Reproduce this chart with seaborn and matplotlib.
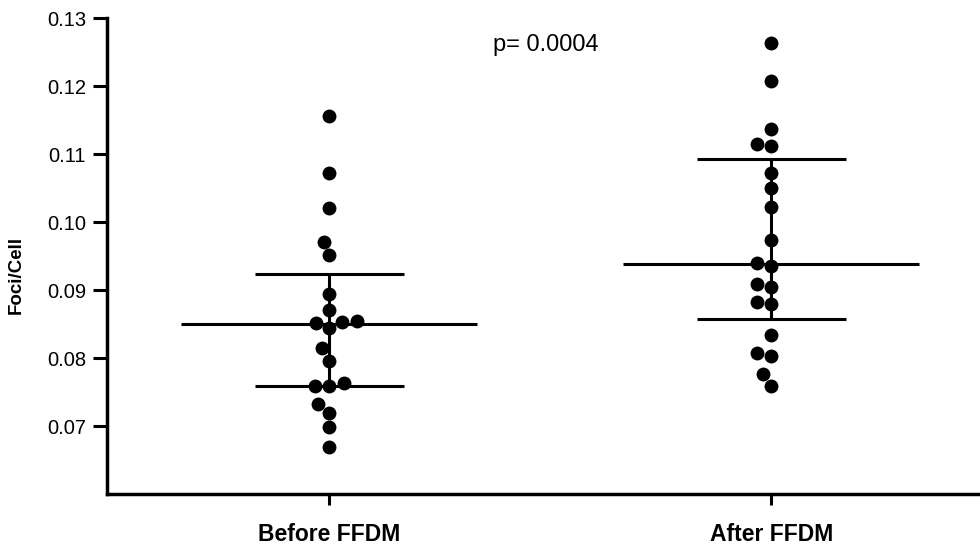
import matplotlib
matplotlib.use("Agg")
import matplotlib.pyplot as plt
import seaborn as sns
import pandas as pd

categories = ["Before FFDM", "After FFDM"]
before_values = [0.1156, 0.1072, 0.1020, 0.0970, 0.0951, 0.0894, 0.0870, 0.0854,
                 0.0851, 0.0844, 0.0853, 0.0814, 0.0796, 0.0759, 0.0759, 0.0763,
                 0.0732, 0.0719, 0.0698, 0.0669]
after_values = [0.1263, 0.1207, 0.1137, 0.1115, 0.1112, 0.1072, 0.1050, 0.1022,
                0.0974, 0.0940, 0.0936, 0.0909, 0.0904, 0.0882, 0.0879, 0.0834,
                0.0808, 0.0803, 0.0776, 0.0759]
center_line = [0.0850, 0.0938]
upper_line = [0.0923, 0.1092]
lower_line = [0.0759, 0.0857]
y_ticks = [0.07, 0.08, 0.09, 0.10, 0.11, 0.12, 0.13]
p_text = "p= 0.0004"

df = pd.DataFrame({
    "group": [categories[0]] * len(before_values) + [categories[1]] * len(after_values),
    "value": before_values + after_values,
})

sns.set_style("white")
plt.rcParams["font.family"] = ["Liberation Sans", "DejaVu Sans"]
plt.rcParams["text.color"] = "black"
plt.rcParams["axes.labelcolor"] = "black"
plt.rcParams["xtick.color"] = "black"
plt.rcParams["ytick.color"] = "black"

fig = plt.figure(figsize=(9.8, 5.46), dpi=100)
ax = fig.add_axes([107 / 980, 52 / 546, (980 - 107) / 980, (494 - 18) / 546])

ax.set_xlim(-0.503, 1.472)
ax.set_ylim(0.06, 0.13)

sns.swarmplot(data=df, x="group", y="value", order=categories, color="black",
              size=10, linewidth=0, ax=ax, zorder=3)

lw = 2.2
for i in range(len(categories)):
    ax.hlines(center_line[i], i - 0.335, i + 0.335, color="black", lw=lw, zorder=2)
    ax.hlines([upper_line[i], lower_line[i]], i - 0.168, i + 0.168, color="black", lw=lw, zorder=2)
    ax.vlines(i, lower_line[i], upper_line[i], color="black", lw=lw, zorder=2)

ax.set_xlim(-0.503, 1.472)
ax.set_ylim(0.06, 0.13)
ax.set_yticks(y_ticks)
ax.set_yticklabels([f"{t:.2f}" for t in y_ticks], fontsize=14.5, color="black")
ax.set_xticks(range(len(categories)))
ax.set_xticklabels(categories, fontsize=16.5, fontweight="bold", color="black")
ax.tick_params(axis="y", direction="out", length=10, width=2.2, pad=5, left=True, colors="black")
ax.tick_params(axis="x", direction="out", length=8, width=2.2, pad=13, bottom=True, colors="black")

for s in ["top", "right"]:
    ax.spines[s].set_visible(False)
for s in ["left", "bottom"]:
    ax.spines[s].set_linewidth(2.5)
    ax.spines[s].set_color("black")

ax.set_xlabel("")
ax.set_ylabel("Foci/Cell", fontsize=13.5, fontweight="bold", color="black")
ax.yaxis.set_label_coords(-0.094, 0.46)

ax.text(0.49, 0.1260, p_text, fontsize=17, ha="center", va="center", color="black")

fig.savefig("out.png", dpi=100, facecolor="white")
